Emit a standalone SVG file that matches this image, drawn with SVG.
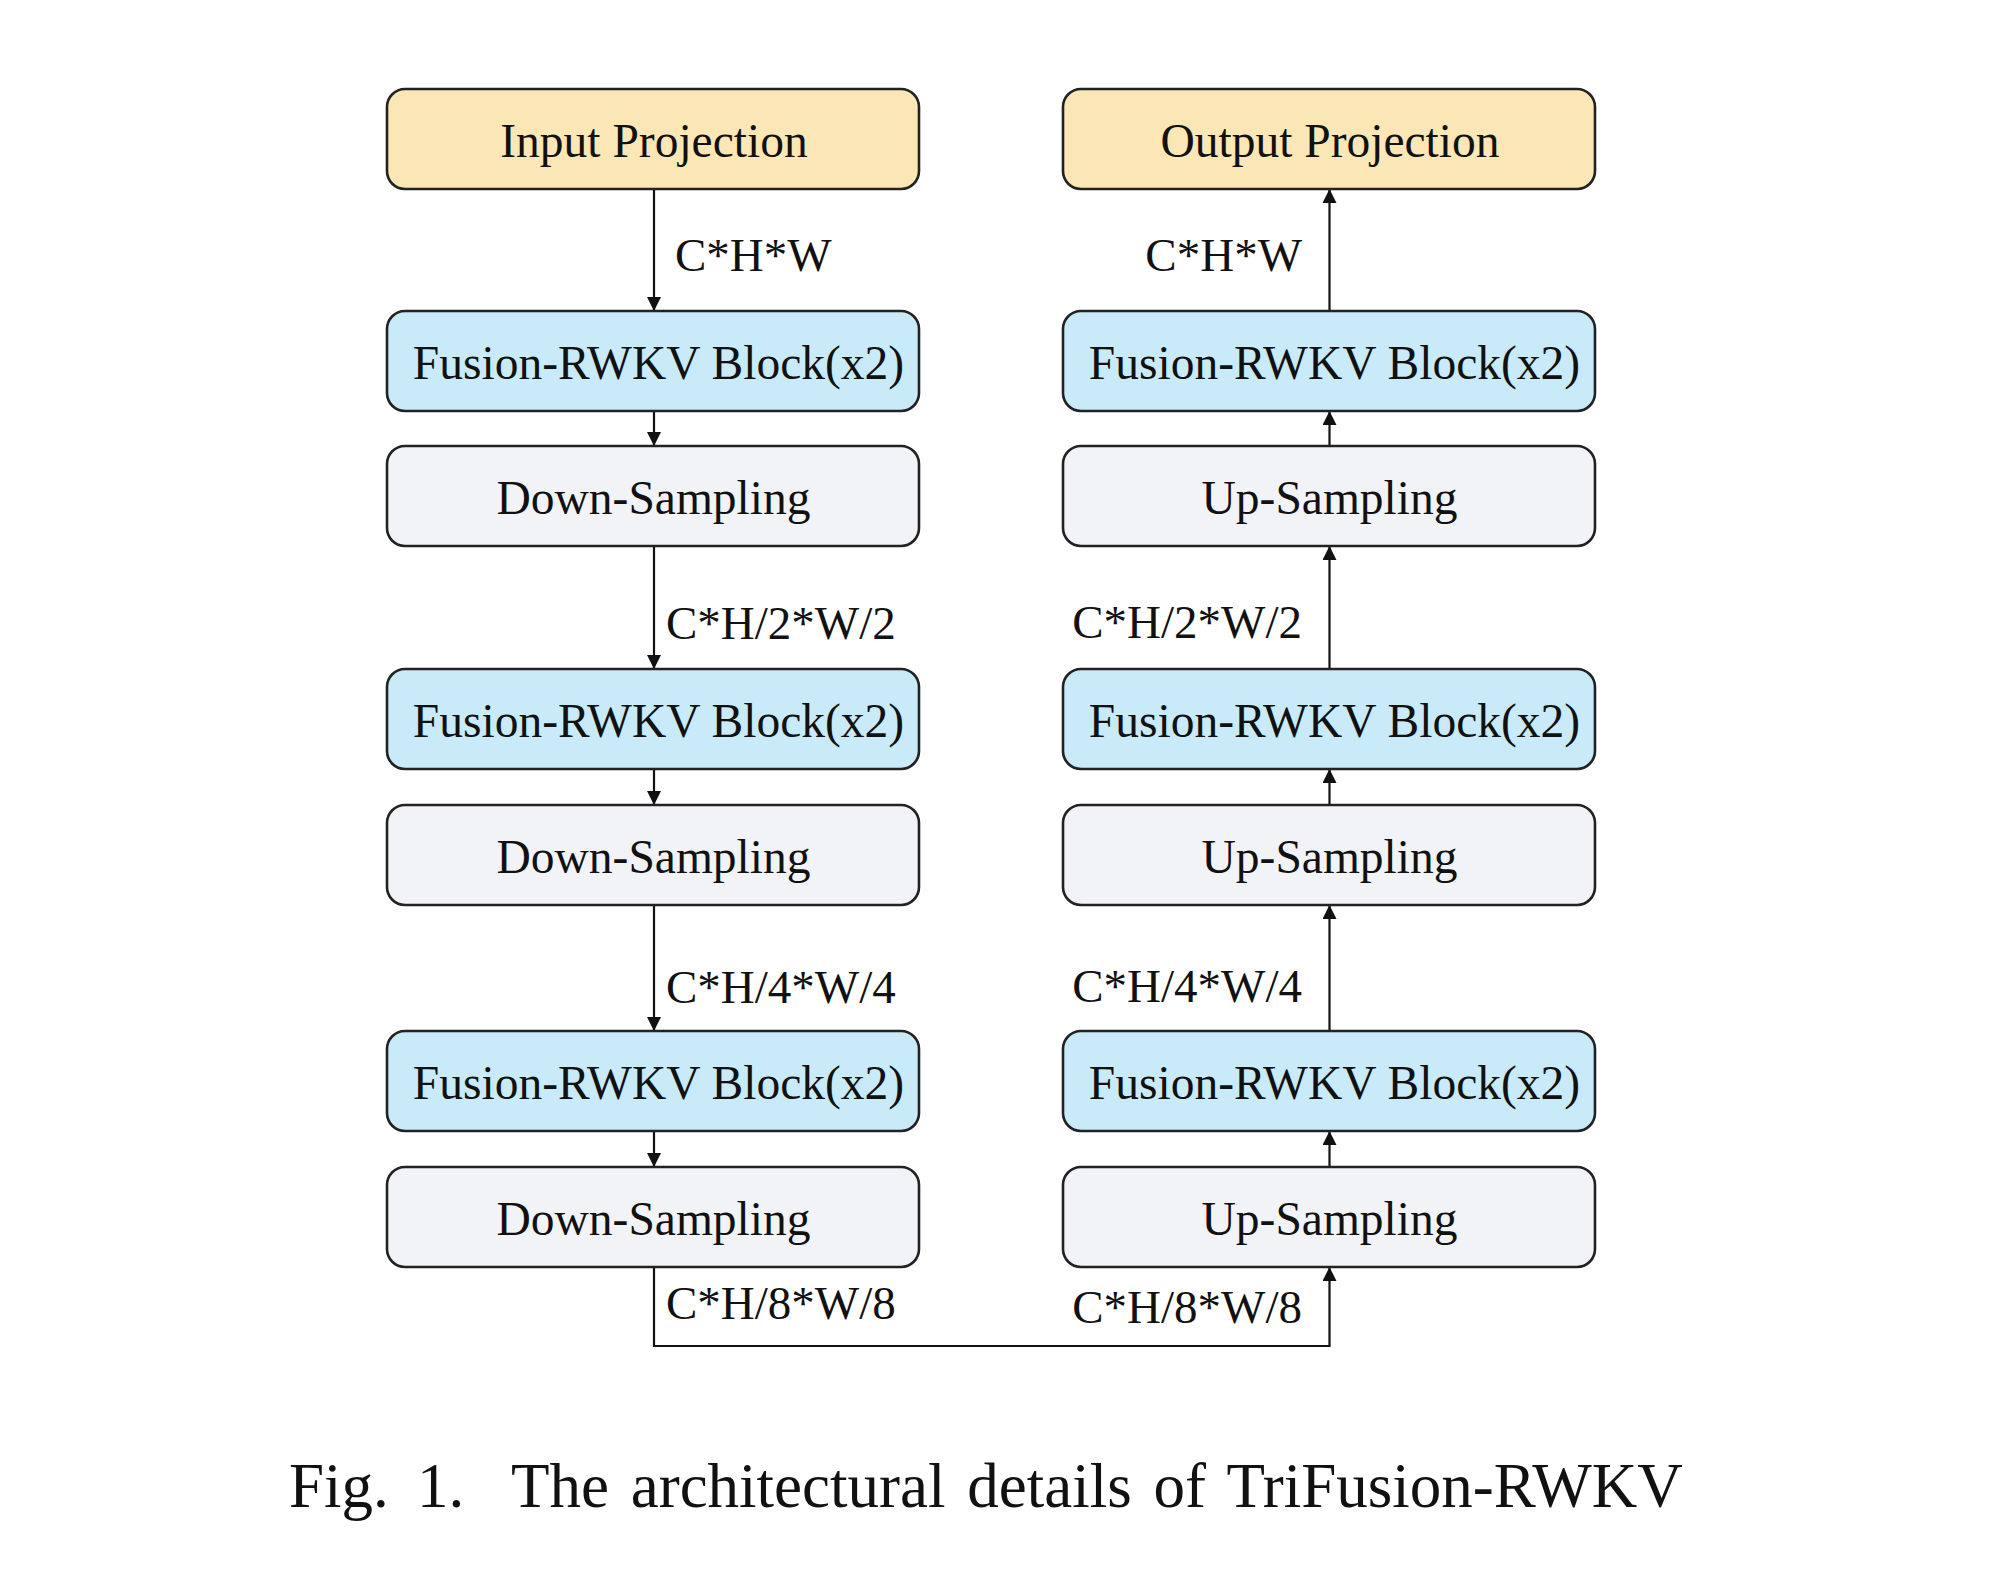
<svg xmlns="http://www.w3.org/2000/svg" width="2004" height="1573" viewBox="0 0 2004 1573">
<style>
.box{stroke:#222;stroke-width:2.6}
.proj{fill:#FBE7B5}
.fus{fill:#C8EAF9}
.samp{fill:#F2F3F7}
.t{font-family:"Liberation Serif","Times New Roman",serif;font-size:47px;fill:#111}
.b{font-size:47.5px}
.c{text-anchor:middle}
.e{text-anchor:end}
.ln{stroke:#111;stroke-width:2.2;fill:none}
.cap{font-family:"Liberation Serif","Times New Roman",serif;font-size:63px;fill:#111}
</style>
<defs>
<marker id="ah" markerUnits="userSpaceOnUse" markerWidth="16" markerHeight="16" refX="14" refY="7" orient="auto">
<path d="M0,0 L14,7 L0,14 z" fill="#111"/>
</marker>
</defs>
<rect width="2004" height="1573" fill="#fff"/>

<g id="connectors">
<line class="ln" x1="654" y1="189" x2="654" y2="311" marker-end="url(#ah)"/>
<line class="ln" x1="654" y1="411" x2="654" y2="446" marker-end="url(#ah)"/>
<line class="ln" x1="654" y1="546" x2="654" y2="669" marker-end="url(#ah)"/>
<line class="ln" x1="654" y1="769" x2="654" y2="805" marker-end="url(#ah)"/>
<line class="ln" x1="654" y1="905" x2="654" y2="1031" marker-end="url(#ah)"/>
<line class="ln" x1="654" y1="1131" x2="654" y2="1167" marker-end="url(#ah)"/>
<polyline class="ln" points="654,1267 654,1346 1329.5,1346 1329.5,1267" marker-end="url(#ah)"/>
<line class="ln" x1="1329.5" y1="1167" x2="1329.5" y2="1131" marker-end="url(#ah)"/>
<line class="ln" x1="1329.5" y1="1031" x2="1329.5" y2="905" marker-end="url(#ah)"/>
<line class="ln" x1="1329.5" y1="805" x2="1329.5" y2="769" marker-end="url(#ah)"/>
<line class="ln" x1="1329.5" y1="669" x2="1329.5" y2="546" marker-end="url(#ah)"/>
<line class="ln" x1="1329.5" y1="446" x2="1329.5" y2="411" marker-end="url(#ah)"/>
<line class="ln" x1="1329.5" y1="311" x2="1329.5" y2="189" marker-end="url(#ah)"/>
<text class="t" x="675" y="271">C*H*W</text>
<text class="t" x="666" y="639">C*H/2*W/2</text>
<text class="t" x="666" y="1003">C*H/4*W/4</text>
<text class="t" x="666" y="1319">C*H/8*W/8</text>
<text class="t e" x="1302" y="271">C*H*W</text>
<text class="t e" x="1302" y="638">C*H/2*W/2</text>
<text class="t e" x="1302" y="1002">C*H/4*W/4</text>
<text class="t e" x="1302" y="1323">C*H/8*W/8</text>
</g>

<g id="input-projection"><rect class="box proj" x="387" y="89" width="532" height="100" rx="18"/><text class="t b c" x="654" y="157">Input Projection</text></g>
<g id="enc-fusion-1"><rect class="box fus" x="387" y="311" width="532" height="100" rx="18"/><text class="t b c" x="658.5" y="379">Fusion-RWKV Block(x2)</text></g>
<g id="enc-down-1"><rect class="box samp" x="387" y="446" width="532" height="100" rx="18"/><text class="t b c" x="653.5" y="514">Down-Sampling</text></g>
<g id="enc-fusion-2"><rect class="box fus" x="387" y="669" width="532" height="100" rx="18"/><text class="t b c" x="658.5" y="737">Fusion-RWKV Block(x2)</text></g>
<g id="enc-down-2"><rect class="box samp" x="387" y="805" width="532" height="100" rx="18"/><text class="t b c" x="653.5" y="873">Down-Sampling</text></g>
<g id="enc-fusion-3"><rect class="box fus" x="387" y="1031" width="532" height="100" rx="18"/><text class="t b c" x="658.5" y="1099">Fusion-RWKV Block(x2)</text></g>
<g id="enc-down-3"><rect class="box samp" x="387" y="1167" width="532" height="100" rx="18"/><text class="t b c" x="653.5" y="1235">Down-Sampling</text></g>

<g id="output-projection"><rect class="box proj" x="1063" y="89" width="532" height="100" rx="18"/><text class="t b c" x="1330" y="157">Output Projection</text></g>
<g id="dec-fusion-1"><rect class="box fus" x="1063" y="311" width="532" height="100" rx="18"/><text class="t b c" x="1334.5" y="379">Fusion-RWKV Block(x2)</text></g>
<g id="dec-up-1"><rect class="box samp" x="1063" y="446" width="532" height="100" rx="18"/><text class="t b c" x="1329.5" y="514">Up-Sampling</text></g>
<g id="dec-fusion-2"><rect class="box fus" x="1063" y="669" width="532" height="100" rx="18"/><text class="t b c" x="1334.5" y="737">Fusion-RWKV Block(x2)</text></g>
<g id="dec-up-2"><rect class="box samp" x="1063" y="805" width="532" height="100" rx="18"/><text class="t b c" x="1329.5" y="873">Up-Sampling</text></g>
<g id="dec-fusion-3"><rect class="box fus" x="1063" y="1031" width="532" height="100" rx="18"/><text class="t b c" x="1334.5" y="1099">Fusion-RWKV Block(x2)</text></g>
<g id="dec-up-3"><rect class="box samp" x="1063" y="1167" width="532" height="100" rx="18"/><text class="t b c" x="1329.5" y="1235">Up-Sampling</text></g>

<g id="caption">
<text class="cap" y="1507"><tspan x="289">Fig.</tspan><tspan x="417">1.</tspan><tspan x="511" word-spacing="6">The architectural details of TriFusion-RWKV</tspan></text>
</g>
</svg>
